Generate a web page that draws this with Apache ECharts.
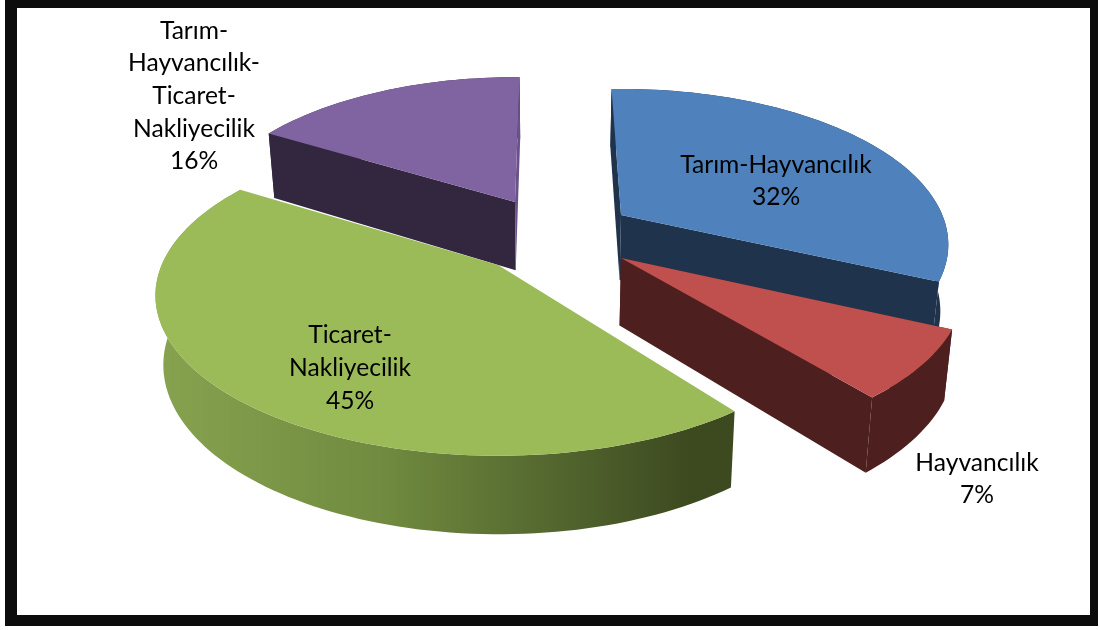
<!DOCTYPE html>
<html>
<head>
<meta charset="utf-8">
<style>
  html, body { margin: 0; padding: 0; background: #fff; }
  #chart { width: 1100px; height: 630px; }
</style>
<script src="https://cdn.jsdelivr.net/npm/echarts@6/dist/echarts.min.js"></script>
</head>
<body>
<div id="chart"></div>
<script>
  // data
  var categories = ['Tarım-Hayvancılık', 'Hayvancılık', 'Ticaret-Nakliyecilik', 'Tarım-Hayvancılık-Ticaret-Nakliyecilik'];
  var shares = [32, 7, 45, 16];
  var labelLines = [
    ['Tarım-Hayvancılık'],
    ['Hayvancılık'],
    ['Ticaret-', 'Nakliyecilik'],
    ['Tarım-', 'Hayvancılık-', 'Ticaret-', 'Nakliyecilik']
  ];

  // look of each slice, same order as categories
  // sx/sy stretch the disc, nudge corrects the start/end angle for the perspective of the original
  var sliceLook = [
    { top: '#4f81bd', wall: '#1f344c', cutA: '#1f344c', cutB: '#1f344c', apex: [621, 215], sx: 0.965, sy: 1, nudge: [0, 1], depth: 0, z: 2, label: [776, 181] },
    { top: '#c0504d', wall: '#4d1f1e', cutA: '#4d1f1e', cutB: '#4d1f1e', apex: [621, 258], sx: 1.01, sy: 1.03, nudge: [2, 2], depth: 0, z: 3, label: [977, 479] },
    { top: '#9bbb59', wall: null, apex: [498, 265], sx: 1.01, sy: 1.03, nudge: [5, 2], depth: 0, z: 4, label: [350, 368] },
    { top: '#8064a2', wall: '#33263f', cutA: '#33263f', cutB: '#6a5189', apex: [515, 202], sx: 0.94, sy: 0.99, nudge: [0, 3], depth: 4, z: 1, label: [194, 96] }
  ];
  var greenWall = {
    type: 'linear', x: 0, y: 0, x2: 1, y2: 0,
    colorStops: [
      { offset: 0, color: '#87a34f' },
      { offset: 0.4, color: '#708a3f' },
      { offset: 0.75, color: '#4d5f2b' },
      { offset: 0.92, color: '#3d4a20' },
      { offset: 1, color: '#3d4a20' }
    ]
  };

  // fake 3d disc
  var FIRST_ANGLE = -2, RX = 333, RY = 150, TILT = 0.19;
  var FONT = '24.6px Lato, "Open Sans", sans-serif', LINE_H = 32.6;

  function project(look, deg) {
    var t = deg * Math.PI / 180;
    var w = 1 + TILT * Math.cos(t);
    return [
      look.apex[0] + look.sx * RX * Math.sin(t) / w,
      look.apex[1] - look.sy * RY * Math.cos(t) / w
    ];
  }
  function dropper(look) {
    return function (p) {
      return [550 + (p[0] - 550) * 0.98, p[1] + 53 + look.depth + 0.056 * p[1]];
    };
  }
  function poly(points, fill, z) {
    return { type: 'polygon', z2: z, shape: { points: points }, style: { fill: fill } };
  }

  function renderSlice(params, api) {
    var i = params.dataIndex;
    var look = sliceLook[i];
    var done = 0;
    for (var k = 0; k < i; k++) done += shares[k];
    var a0 = FIRST_ANGLE + done * 3.6 + look.nudge[0];
    var a1 = FIRST_ANGLE + (done + api.value(0)) * 3.6 + look.nudge[1];

    var arc = [];
    for (var a = a0; a < a1; a += 1.5) arc.push(project(look, a));
    arc.push(project(look, a1));
    var drop = dropper(look);
    var low = arc.map(drop).reverse();
    var apex = look.apex, first = arc[0], last = arc[arc.length - 1];
    var z = look.z * 10;

    var kids = [poly(arc.concat(low), look.wall || greenWall, z)];
    // the big green slice hides its own cut faces
    if (look.cutA) {
      kids.push(poly([apex, first, drop(first), drop(apex)], look.cutA, z + 1));
      kids.push(poly([apex, last, drop(last), drop(apex)], look.cutB, z + 2));
    }
    kids.push(poly([apex].concat(arc), look.top, z + 3));
    kids.push({
      type: 'text',
      z2: 100,
      style: {
        x: look.label[0],
        y: look.label[1],
        text: labelLines[i].concat(api.value(0) + '%').join('\n'),
        font: FONT,
        lineHeight: LINE_H,
        fill: '#000',
        align: 'center',
        verticalAlign: 'middle'
      }
    });
    return { type: 'group', children: kids };
  }

  var chart = echarts.init(document.getElementById('chart'), null, { renderer: 'canvas' });
  chart.setOption({
    backgroundColor: '#fff',
    animation: false,
    graphic: [
      { type: 'rect', shape: { x: 5, y: 0, width: 1093, height: 626 }, style: { fill: '#0c0c0c' } },
      { type: 'rect', shape: { x: 17, y: 8, width: 1073, height: 607 }, style: { fill: '#fff' } }
    ],
    series: [{
      type: 'custom',
      coordinateSystem: 'none',
      z: 5,
      renderItem: renderSlice,
      data: categories.map(function (name, i) {
        return { name: name, value: [shares[i]] };
      })
    }]
  });
</script>
</body>
</html>
